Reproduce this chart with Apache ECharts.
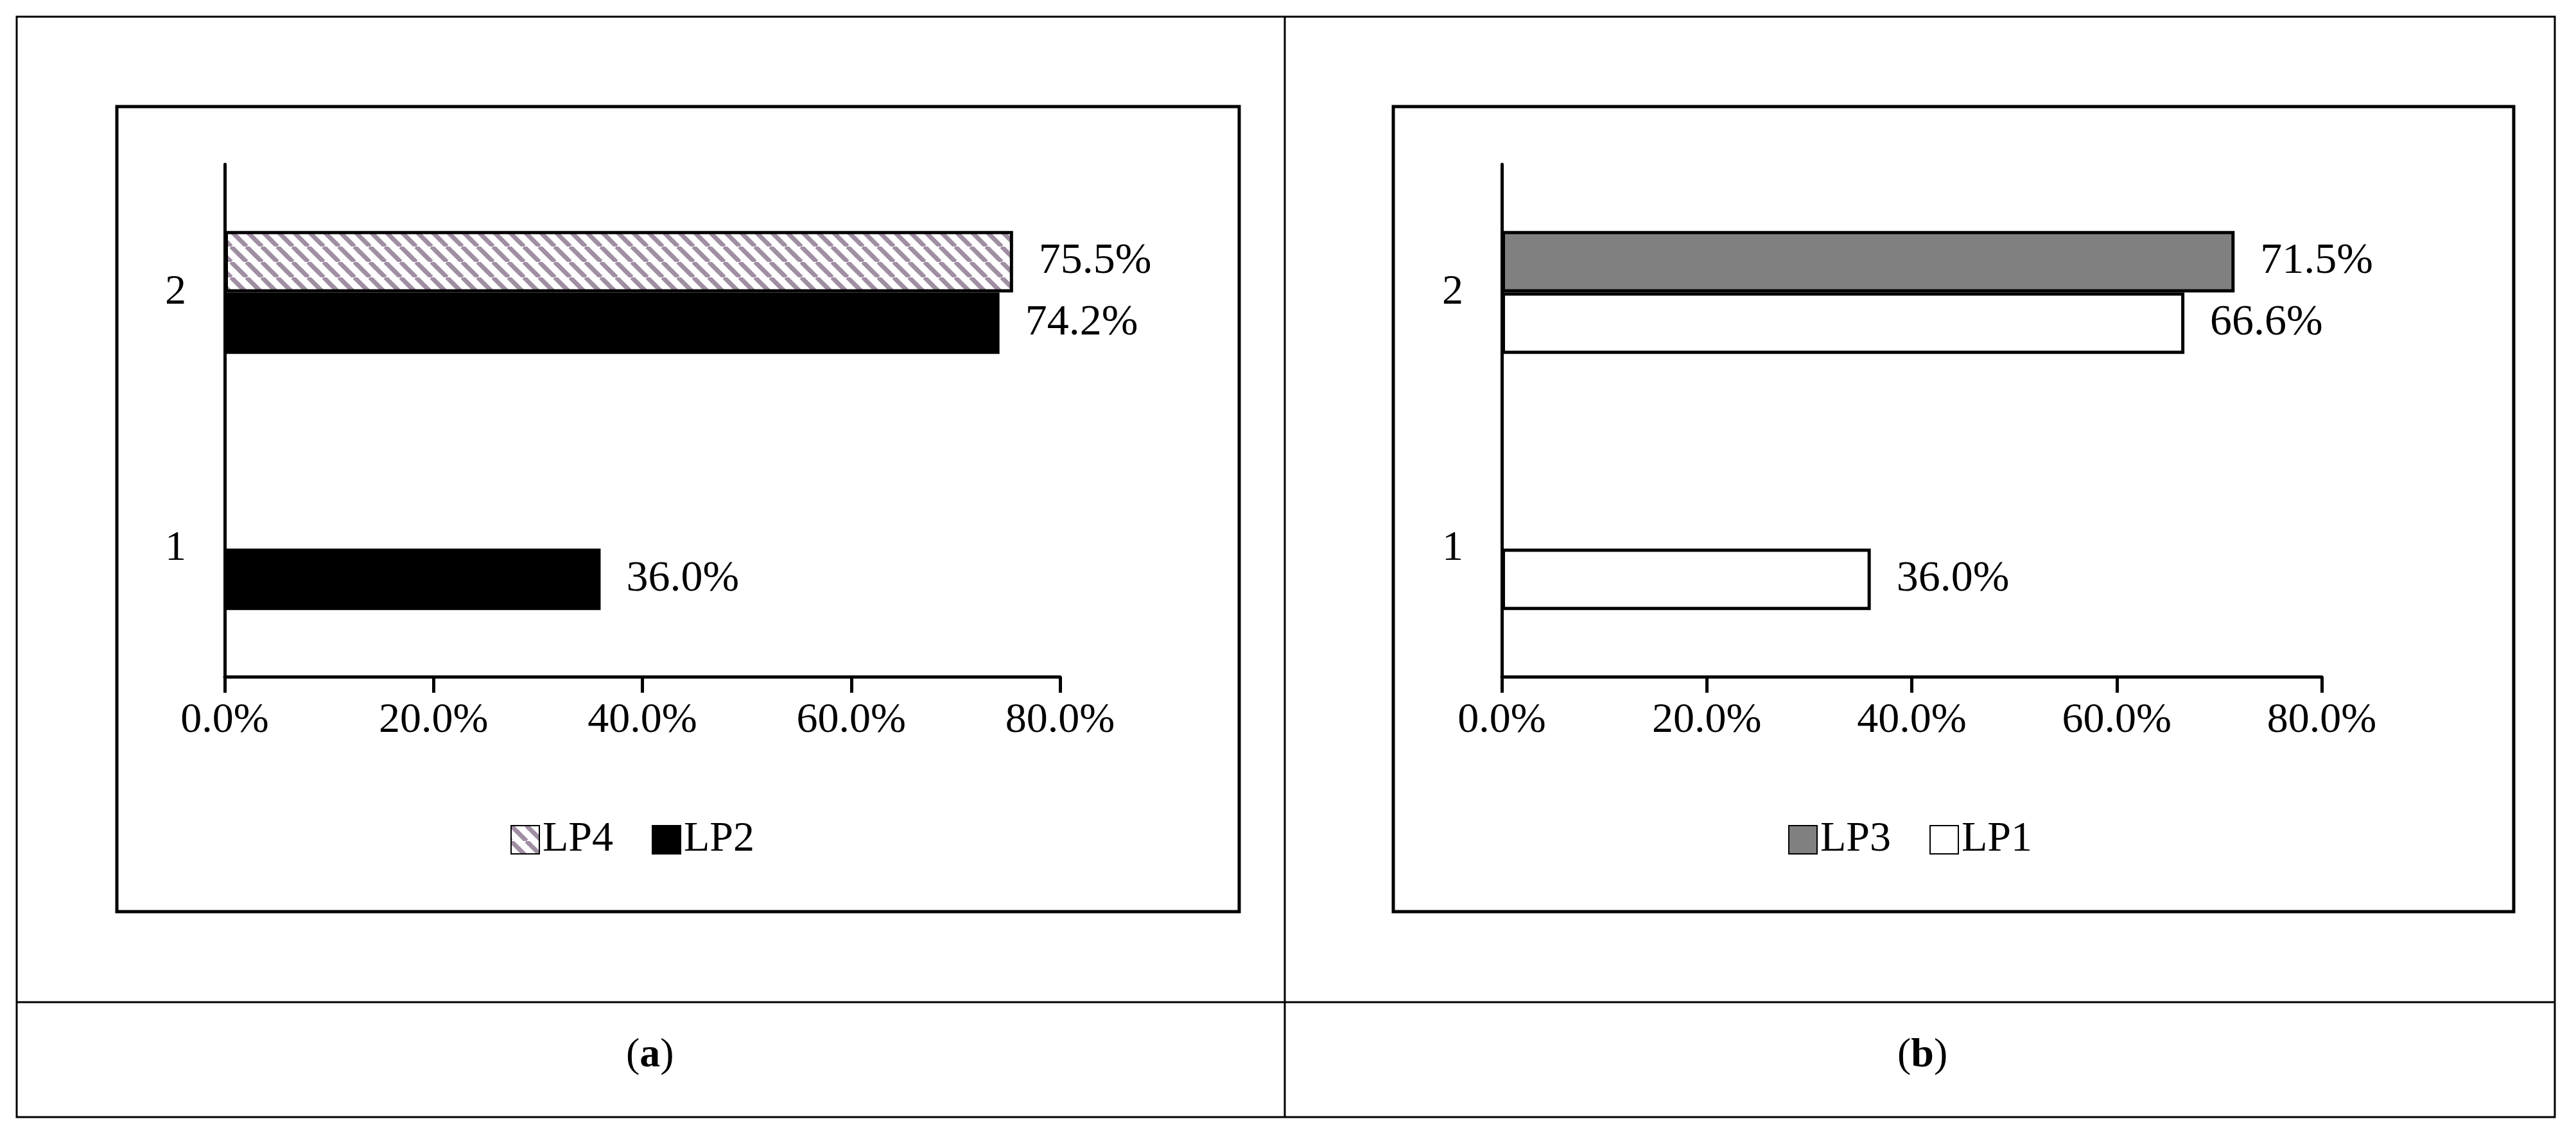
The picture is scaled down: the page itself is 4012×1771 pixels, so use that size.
<!DOCTYPE html>
<html><head><meta charset="utf-8">
<script src="https://cdn.jsdelivr.net/npm/echarts@6/dist/echarts.min.js"></script>
<style>html,body{margin:0;background:#fff}#main{width:4012px;height:1771px}</style>
</head><body><div id="main"></div>
<script>
var categories = ['1', '2'];
var lp4 = [null, 0.755];
var lp2 = [0.360, 0.742];
var lp3 = [null, 0.715];
var lp1 = [0.360, 0.666];
var xTicks = [0, 0.2, 0.4, 0.6, 0.8];

var font = "'Liberation Serif', 'Times New Roman', serif";
var chart = echarts.init(document.getElementById('main'));

// hatch pattern for LP4
var pc = document.createElement('canvas');
pc.width = 24; pc.height = 24;
var g = pc.getContext('2d');
g.fillStyle = '#fff'; g.fillRect(0, 0, 24, 24);
g.strokeStyle = '#a08ea3'; g.lineWidth = 7;
for (var k = -24; k <= 48; k += 24) {
  g.beginPath(); g.moveTo(k, 0); g.lineTo(k + 24, 24); g.stroke();
}
var hatch = { image: pc, repeat: 'repeat' };

function pct(v) { return (v * 100).toFixed(1) + '%'; }

function xAx(i) {
  return {
    type: 'value', gridIndex: i, min: 0, max: 0.8, interval: 0.2,
    splitLine: { show: false },
    axisLine: { show: true, lineStyle: { color: '#000', width: 5 } },
    axisTick: { show: true, length: 25, lineStyle: { color: '#000', width: 5 } },
    axisLabel: { formatter: pct, fontFamily: font, fontSize: 66, color: '#000', margin: 36 }
  };
}
function yAx(i) {
  return {
    type: 'category', gridIndex: i, data: categories,
    axisLine: { show: true, onZero: false, lineStyle: { color: '#000', width: 5 } },
    axisTick: { show: false },
    axisLabel: { fontFamily: font, fontSize: 66, color: '#000', margin: 60 }
  };
}
function bar(name, data, color, i) {
  return {
    name: name, type: 'bar', data: data, xAxisIndex: i, yAxisIndex: i,
    barCategoryGap: '52%', barGap: '0%',
    itemStyle: { color: color, borderColor: '#000', borderWidth: 5 },
    label: { show: true, position: 'right', distance: 40, formatter: function (p) { return pct(p.value); },
      fontFamily: font, fontSize: 68, color: '#000' }
  };
}
var lineStyle = { stroke: '#000', lineWidth: 3, fill: null };
var boldBox = { stroke: '#000', lineWidth: 5, fill: null };
var legText = { fontFamily: font, fontSize: 66, color: '#000' };

chart.setOption({
  backgroundColor: '#fff',
  animation: false,
  grid: [
    { left: 350, width: 1301, top: 256, height: 798 },
    { left: 2339, width: 1277, top: 256, height: 798 }
  ],
  xAxis: [xAx(0), xAx(1)],
  yAxis: [yAx(0), yAx(1)],
  legend: [
    { data: ['LP4', 'LP2'], left: 790, top: 1270, textStyle: legText,
      itemWidth: 44, itemHeight: 44, itemGap: 60, icon: 'rect' },
    { data: ['LP3', 'LP1'], left: 2780, top: 1270, textStyle: legText,
      itemWidth: 44, itemHeight: 44, itemGap: 60, icon: 'rect' }
  ],
  series: [
    bar('LP4', lp4, hatch, 0),
    bar('LP2', lp2, '#000', 0),
    bar('LP3', lp3, '#808080', 1),
    bar('LP1', lp1, '#fff', 1)
  ],
  graphic: [
    { type: 'rect', shape: { x: 26, y: 26, width: 3953, height: 1714 }, style: lineStyle },
    { type: 'line', shape: { x1: 2001, y1: 26, x2: 2001, y2: 1740 }, style: lineStyle },
    { type: 'line', shape: { x1: 26, y1: 1561, x2: 3979, y2: 1561 }, style: lineStyle },
    { type: 'rect', shape: { x: 182, y: 166, width: 1748, height: 1254 }, style: boldBox },
    { type: 'rect', shape: { x: 2170, y: 166, width: 1745, height: 1254 }, style: boldBox },
    { type: 'text', left: 975, top: 1612, style: { rich: { b: { fontWeight: 'bold', fontFamily: font, fontSize: 64 }, n: { fontFamily: font, fontSize: 64 } }, text: '{n|(}{b|a}{n|)}', fill: '#000' } },
    { type: 'text', left: 2955, top: 1612, style: { rich: { b: { fontWeight: 'bold', fontFamily: font, fontSize: 64 }, n: { fontFamily: font, fontSize: 64 } }, text: '{n|(}{b|b}{n|)}', fill: '#000' } }
  ]
});
</script></body></html>
